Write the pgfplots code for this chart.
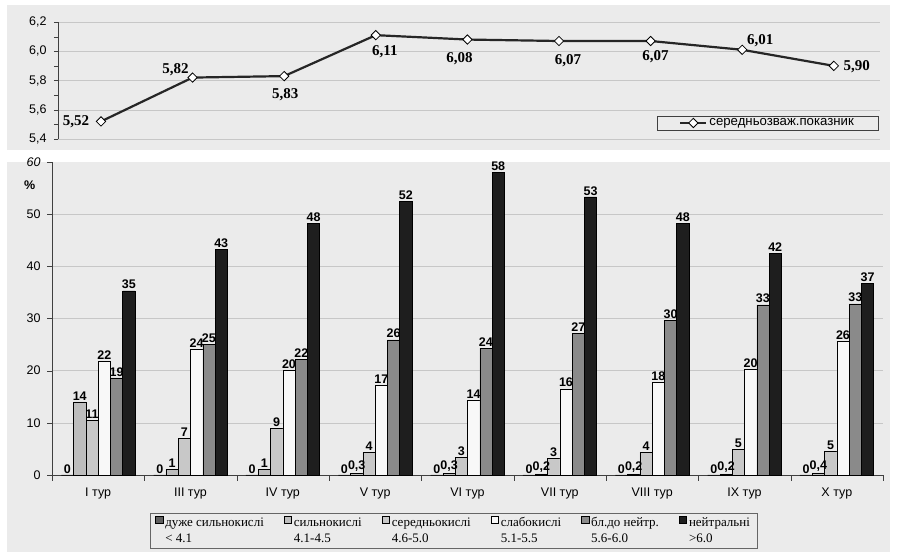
\documentclass[border=0pt]{standalone}
\usepackage{fontspec}
\setmainfont{Liberation Sans}
\newfontfamily\tnr{Liberation Serif}
\usepackage{pgfplots}
\usepackage{pgfplotstable}
\pgfplotsset{compat=1.18}

\definecolor{paper}{HTML}{EBEBEB}
\definecolor{cA}{HTML}{5F5F5F}
\definecolor{cB}{HTML}{BDBDBD}
\definecolor{cC}{HTML}{C8C8C8}
\definecolor{cD}{HTML}{F8F8F8}
\definecolor{cE}{HTML}{8A8A8A}
\definecolor{cF}{HTML}{1E1E1E}

% weighted mean by round (top line)
\pgfplotstableread{
x y lab dx dy
0 5.52 5,52 -25 0
1 5.82 5,82 -17 8
2 5.83 5,83 1 -19
3 6.11 6,11 9 -17
4 6.08 6,08 -8 -19
5 6.07 6,07 9 -20
6 6.07 6,07 5 -16
7 6.01 6,01 18 9
8 5.90 5,90 23 -1
}\avg

% shares of soils by acidity class, %
\pgfplotstableread{
x y lab
0 0 0
1 0 0
2 0 0
3 0 0
4 0 0
5 0 0
6 0 0
7 0 0
8 0 0
}\sA
\pgfplotstableread{
x y lab
0 14.0 14
1 1.1 1
2 1.1 1
3 0.3 0,3
4 0.3 0,3
5 0.2 0,2
6 0.2 0,2
7 0.2 0,2
8 0.4 0,4
}\sB
\pgfplotstableread{
x y lab
0 10.5 11
1 7.0 7
2 9.0 9
3 4.4 4
4 3.3 3
5 3.2 3
6 4.4 4
7 4.9 5
8 4.5 5
}\sC
\pgfplotstableread{
x y lab
0 21.8 22
1 24.1 24
2 20.1 20
3 17.1 17
4 14.4 14
5 16.5 16
6 17.7 18
7 20.3 20
8 25.7 26
}\sD
\pgfplotstableread{
x y lab
0 18.6 19
1 25.1 25
2 22.1 22
3 25.9 26
4 24.3 24
5 27.1 27
6 29.7 30
7 32.6 33
8 32.8 33
}\sE
\pgfplotstableread{
x y lab
0 35.3 35
1 43.2 43
2 48.2 48
3 52.5 52
4 58.0 58
5 53.3 53
6 48.2 48
7 42.5 42
8 36.8 37
}\sF

\begin{document}
\begin{tikzpicture}
\path[use as bounding box] (0pt,0pt) rectangle (908pt,553pt);
\fill[paper] (7pt,548pt) rectangle (890pt,403pt);
\fill[paper] (7pt,391pt) rectangle (890pt,1pt);

% top: line chart
\begin{axis}[
  at={(58pt,414pt)}, anchor=south west,
  width=822pt, height=117pt, scale only axis,
  xmin=-0.469, xmax=8.504, ymin=5.4, ymax=6.2,
  axis x line=none, axis y line*=left,
  axis line style={black!75},
  ytick={5.4,5.6,5.8,6.0,6.2},
  minor ytick={5.5,5.7,5.9,6.1},
  ymajorgrids, grid style={black!22},
  tick align=outside, major tick length=4pt, minor tick length=4pt,
  tick style={black!75},
  yticklabel style={font=\fontsize{12.5}{14}\selectfont, xshift=-4pt,
    /pgf/number format/.cd, fixed, fixed zerofill, precision=1, use comma, assume math mode=true},
  clip=false,
  legend style={at={(0.9976,0.077)}, anchor=south east, draw=black!75, fill=none,
    font=\fontsize{13.2}{15}\selectfont, inner ysep=0.5pt, inner xsep=22pt},
  legend image code/.code={\draw[mark repeat=2,mark phase=2,#1] plot coordinates {(0pt,0pt) (13pt,0pt) (26pt,0pt)};},
]
\addplot[black!85, line width=2.2pt, mark=square*, mark size=3.3pt,
  mark options={fill=white, draw=black, line width=0.8pt, rotate=45, solid},
  nodes near coords, point meta=explicit symbolic,
  visualization depends on={\thisrow{dx} \as \dx},
  visualization depends on={\thisrow{dy} \as \dy},
  every node near coord/.append style={anchor=center, xshift=\dx pt, yshift=\dy pt,
    font=\fontsize{15}{16}\selectfont\tnr\bfseries, text=black}]
  table[x=x, y=y, meta=lab] {\avg};
\addlegendentry{середньозваж.показник}
\end{axis}

% bottom: grouped bars
\begin{axis}[
  at={(52pt,78pt)}, anchor=south west,
  width=831pt, height=313pt, scale only axis,
  xmin=-0.5, xmax=8.5, ymin=0, ymax=60,
  axis x line*=bottom, axis y line*=left,
  axis line style={black!75},
  ybar=0pt, bar width=12.3pt,
  legend image code/.code={\draw[#1] (0pt,-0.3pt) rectangle (7.5pt,7.2pt);},
  xtick={0,...,8},
  xticklabels={I тур,III тур,IV тур,V тур,VI тур,VII тур,VIII тур,IX тур,X тур},
  minor xtick={-0.5,0.5,...,8.5},
  major x tick style={draw=none},
  ytick={0,10,...,50},
  extra y ticks={60},
  extra y tick style={grid=none, yticklabel style={font=\fontsize{12.5}{14}\selectfont\itshape}},
  ymajorgrids, grid style={black!22},
  tick align=outside, major tick length=5pt, minor tick length=6pt,
  tick style={black!75},
  tick label style={font=\fontsize{12.5}{14}\selectfont},
  yticklabel style={xshift=-3pt},
  xticklabel style={yshift=-4pt},
  /pgf/number format/assume math mode=true,
  nodes near coords, point meta=explicit symbolic,
  every node near coord/.append style={font=\fontsize{12.5}{14}\selectfont\bfseries, text=black, inner sep=1.5pt},
  clip=false,
  legend columns=6,
  legend cell align=left,
  legend style={at={(0.118,-0.121)}, anchor=north west, draw=black!60, fill=none,
    font=\fontsize{13}{15}\selectfont\tnr, inner xsep=5pt, inner ysep=2.5pt,
    /tikz/row sep=1pt,
    /tikz/every even column/.append style={column sep=18pt}},
]
\addplot[draw=black, fill=cA, line width=0.6pt] table[x=x, y=y, meta=lab] {\sA};
\addlegendentry{дуже сильнокислі}
\addplot[draw=black, fill=cB, line width=0.6pt] table[x=x, y=y, meta=lab] {\sB};
\addlegendentry{сильнокислі}
\addplot[draw=black, fill=cC, line width=0.6pt] table[x=x, y=y, meta=lab] {\sC};
\addlegendentry{середньокислі}
\addplot[draw=black, fill=cD, line width=0.6pt] table[x=x, y=y, meta=lab] {\sD};
\addlegendentry{слабокислі}
\addplot[draw=black, fill=cE, line width=0.6pt] table[x=x, y=y, meta=lab] {\sE};
\addlegendentry{бл.до нейтр.}
\addplot[draw=black, fill=cF, line width=0.6pt] table[x=x, y=y, meta=lab] {\sF};
\addlegendentry{нейтральні}
% second legend row: pH ranges under the class names
\addlegendimage{empty legend}\addlegendentry{< 4.1}
\addlegendimage{empty legend}\addlegendentry{4.1-4.5}
\addlegendimage{empty legend}\addlegendentry{4.6-5.0}
\addlegendimage{empty legend}\addlegendentry{5.1-5.5}
\addlegendimage{empty legend}\addlegendentry{5.6-6.0}
\addlegendimage{empty legend}\addlegendentry{>6.0}
\node[font=\fontsize{12.5}{14}\selectfont\bfseries] at (rel axis cs:-0.027,0.927) {\%};
\end{axis}
\end{tikzpicture}
\end{document}
